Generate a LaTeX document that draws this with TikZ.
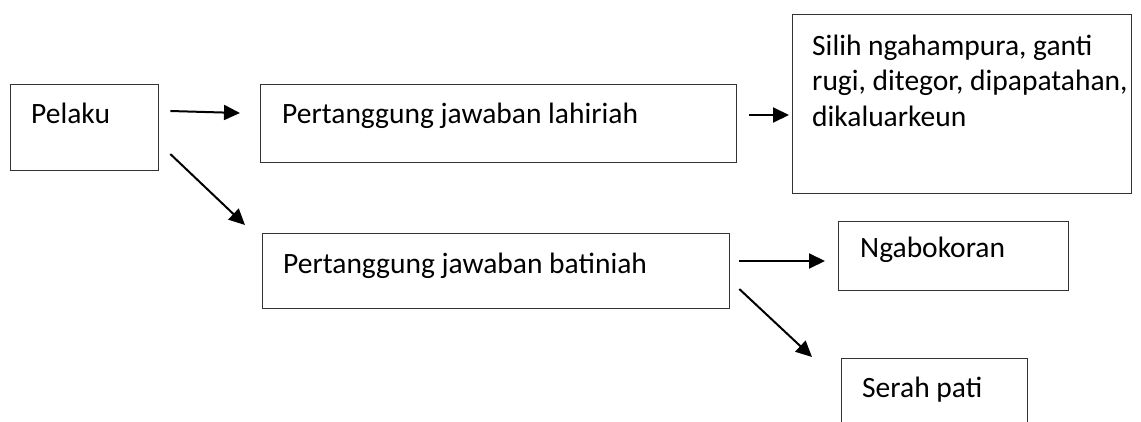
\documentclass[tikz,border=0pt]{standalone}
\usepackage{fontspec}
\setmainfont{Carlito}
\usetikzlibrary{arrows.meta,calc}
\begin{document}
\begin{tikzpicture}[x=1pt,y=-1pt,
  box/.style={draw=black!80,line width=1.3pt,rectangle,inner sep=0pt,anchor=north west},
  lbl/.style={anchor=base west,inner sep=0pt,font=\fontsize{29.5}{35.5}\selectfont},
  arr/.style={line width=2pt,-{Triangle[length=16pt,width=15pt]}}]
\useasboundingbox (0,0) rectangle (1141,421);
\fill[white] (0,0) rectangle (1141,421);
% boxes
\node[box,minimum width=148pt,minimum height=86pt] (pelaku) at (10,84) {};
\node[box,minimum width=476pt,minimum height=78pt] (lahir) at (260,84) {};
\node[box,minimum width=339pt,minimum height=179pt] (sanksi) at (792,14) {};
\node[box,minimum width=467pt,minimum height=75pt] (batin) at (262,233) {};
\node[box,minimum width=230pt,minimum height=69pt] (ngabo) at (838,221) {};
\node[box,minimum width=186pt,minimum height=90pt] (serah) at (841,358) {};
% texts
\node[lbl] (tpelaku) at ($(pelaku.north west)+(21,39)$) {Pelaku};
\node[lbl] (tlahir) at ($(lahir.north west)+(22,39)$) {Pertanggung jawaban lahiriah};
\node[lbl] (ts1) at ($(sanksi.north west)+(20,41)$) {Silih ngahampura, ganti};
\node[lbl] (ts2) at ($(sanksi.north west)+(20,76.5)$) {rugi, ditegor, dipapatahan,};
\node[lbl] (ts3) at ($(sanksi.north west)+(20,112)$) {dikaluarkeun};
\node[lbl] (tbatin) at ($(batin.north west)+(21,40)$) {Pertanggung jawaban batiniah};
\node[lbl] (tngabo) at ($(ngabo.north west)+(22,36)$) {Ngabokoran};
\node[lbl] (tserah) at ($(serah.north west)+(21,39)$) {Serah pati};
% arrows
\draw[arr] ($(pelaku.north east)+(11,27)$) -- ($(lahir.north west)+(-20,29)$);
\draw[arr] ($(pelaku.north east)+(11,70)$) -- ($(batin.north west)+(-17,-8)$);
\draw[arr] ($(lahir.north east)+(12,31)$) -- ($(sanksi.north west)+(-3,101)$);
\draw[arr] ($(batin.north east)+(9,28)$) -- ($(ngabo.north west)+(-13,40)$);
\draw[arr] ($(batin.north east)+(9,56)$) -- ($(serah.north west)+(-29,-1)$);
\end{tikzpicture}
\end{document}
